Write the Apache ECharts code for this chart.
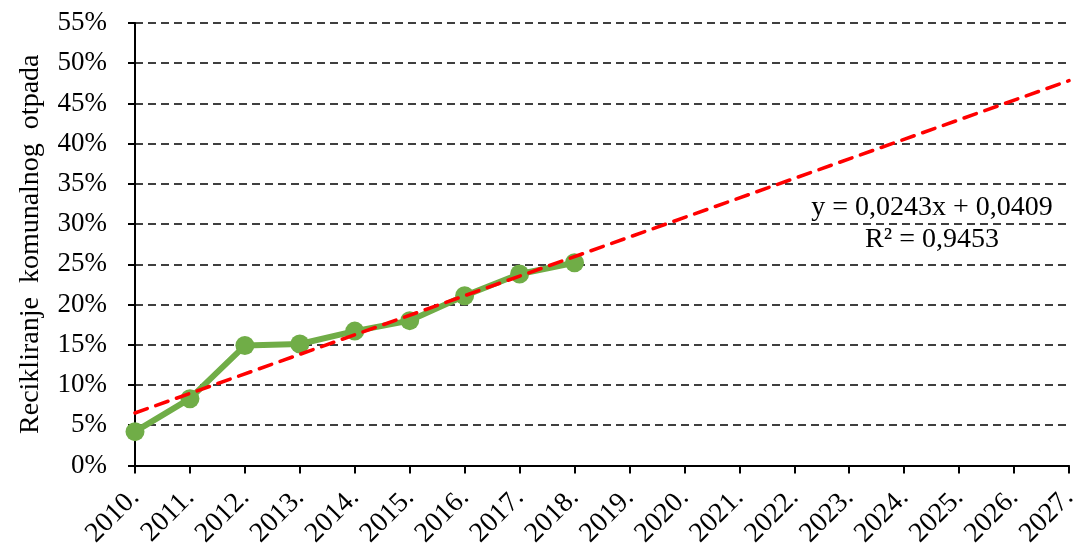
<!DOCTYPE html>
<html>
<head>
<meta charset="utf-8">
<script src="https://cdn.jsdelivr.net/npm/echarts@6/dist/echarts.min.js"></script>
<style>
  html, body { margin: 0; padding: 0; background: #fff; }
  #chart { width: 1081px; height: 550px; }
</style>
</head>
<body>
<div id="chart"></div>
<script>
const years = ['2010.', '2011.', '2012.', '2013.', '2014.', '2015.', '2016.', '2017.', '2018.',
  '2019.', '2020.', '2021.', '2022.', '2023.', '2024.', '2025.', '2026.', '2027.']
// recycling share
const recycling = [0.042, 0.083, 0.149, 0.151, 0.167, 0.180, 0.211, 0.238, 0.252]
// linear trend end points (2010. and 2027.)
const trendStart = 0.0652
const trendEnd = 0.4783
const equationText = 'y = 0,0243x + 0,0409'
const r2Text = 'R² = 0,9453'

const font = '"Liberation Serif", "DejaVu Serif", serif'

const trend = years.map((y, i) => {
  if (i === 0) return trendStart
  if (i === years.length - 1) return trendEnd
  return null
})

const chart = echarts.init(document.getElementById('chart'))

chart.setOption({
  animation: false,
  grid: { left: 135, right: 10, top: 23, bottom: 83 },
  xAxis: {
    type: 'category',
    data: years,
    boundaryGap: false,
    axisLine: { lineStyle: { color: '#000', width: 2 } },
    axisTick: { show: true, alignWithLabel: true, length: 8, lineStyle: { color: '#000', width: 2 } },
    axisLabel: {
      rotate: 45, color: '#000', fontFamily: font, fontSize: 28, margin: 28, interval: 0
    }
  },
  yAxis: {
    type: 'value',
    min: 0,
    max: 0.55,
    interval: 0.05,
    name: 'Recikliranje  komunalnog  otpada',
    nameLocation: 'middle',
    nameRotate: 90,
    nameGap: 90,
    nameTextStyle: { color: '#000', fontFamily: font, fontSize: 28 },
    axisLine: { show: true, lineStyle: { color: '#000', width: 2 } },
    axisTick: { show: true, length: 7, lineStyle: { color: '#000', width: 2 } },
    axisLabel: {
      color: '#000', fontFamily: font, fontSize: 27, margin: 28,
      formatter: v => Math.round(v * 100) + '%'
    },
    splitLine: { lineStyle: { color: '#000', width: 1.5, type: [8, 5] } }
  },
  series: [
    {
      name: 'Recikliranje',
      type: 'line',
      data: recycling,
      symbol: 'circle',
      symbolSize: 19,
      itemStyle: { color: '#70AD47' },
      lineStyle: { color: '#70AD47', width: 6 },
      z: 3
    },
    {
      name: 'Trend',
      type: 'line',
      data: trend,
      connectNulls: true,
      symbol: 'none',
      lineStyle: { color: '#FF0000', width: 3.5, type: [13, 9], cap: 'round' },
      z: 4
    }
  ],
  graphic: [
    {
      type: 'text', x: 932, y: 208,
      style: { text: equationText, fill: '#000', font: '28px ' + font, textAlign: 'center', textVerticalAlign: 'middle' }
    },
    {
      type: 'text', x: 932, y: 240,
      style: { text: r2Text, fill: '#000', font: '28px ' + font, textAlign: 'center', textVerticalAlign: 'middle' }
    }
  ]
})
</script>
</body>
</html>
